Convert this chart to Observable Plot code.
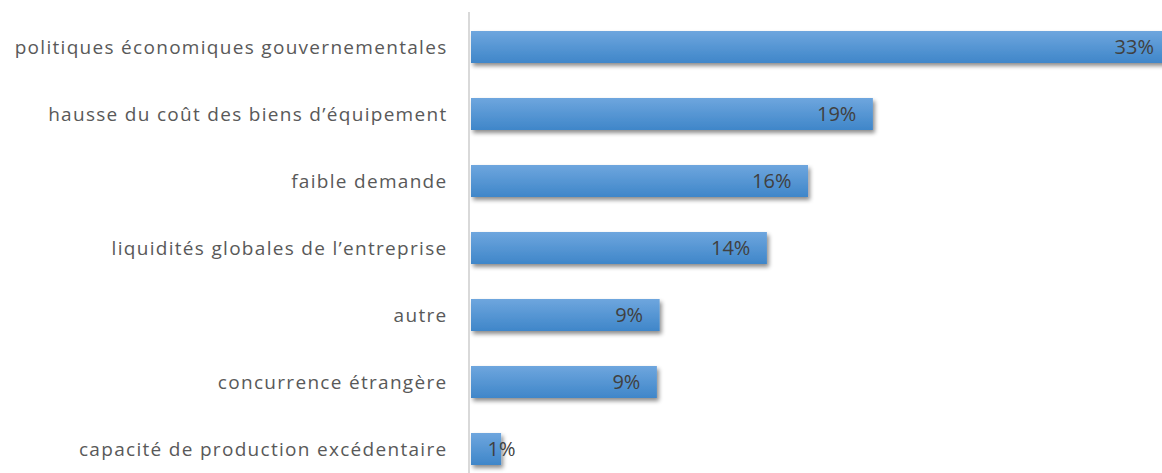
<!DOCTYPE html>
<html>
<head>
<meta charset="utf-8">
<script src="https://cdn.jsdelivr.net/npm/d3@7"></script>
<script src="https://cdn.jsdelivr.net/npm/@observablehq/plot@0.6"></script>
<style>
  html, body { margin: 0; padding: 0; background: #fff; overflow: hidden; }
</style>
</head>
<body>
<div id="chart"></div>
<script>
const categories = [
  "politiques économiques gouvernementales",
  "hausse du coût des biens d’équipement",
  "faible demande",
  "liquidités globales de l’entreprise",
  "autre",
  "concurrence étrangère",
  "capacité de production excédentaire"
];
const values = [33.0, 18.96, 15.9, 13.96, 8.9, 8.77, 1.42];
const valueLabels = ["33%", "19%", "16%", "14%", "9%", "9%", "1%"];

const data = categories.map((c, i) => ({category: c, value: values[i], label: valueLabels[i]}));

const chart = Plot.plot({
  width: 1162,
  height: 473,
  marginLeft: 471,
  marginRight: 0,
  marginTop: 12,
  marginBottom: 0,
  style: {fontFamily: "'Open Sans', sans-serif", overflow: "hidden", background: "#fff"},
  x: {domain: [0, 32.6], axis: null},
  y: {domain: categories, range: [12.4, 482.7], paddingInner: 0.524, paddingOuter: 0.262, axis: null},
  marks: [
    Plot.barX(data, {x: "value", y: "category", fill: "url(#barGrad)"}),
    Plot.ruleX([0], {stroke: "#d9d9d9", strokeWidth: 2, dx: -2.5}),
    Plot.axisY({tickSize: 0, tickPadding: 24, fontSize: 19, fill: "#595959", textStroke: "none", label: null}),
    Plot.text(data.filter(d => d.value >= 5), {x: "value", y: "category", text: "label", dx: -17, textAnchor: "end", fontSize: 20, fill: "#404040"}),
    Plot.text(data.filter(d => d.value < 5), {x: "value", y: "category", text: "label", textAnchor: "middle", fontSize: 20, fill: "#404040"})
  ]
});

const svg = d3.select(chart);
const defs = svg.insert("defs", ":first-child");
const grad = defs.append("linearGradient").attr("id", "barGrad").attr("x1", 0).attr("y1", 0).attr("x2", 0).attr("y2", 1);
grad.append("stop").attr("offset", "0%").attr("stop-color", "#6ea6de");
grad.append("stop").attr("offset", "100%").attr("stop-color", "#3f86c9");
const f = defs.append("filter").attr("id", "barShadow").attr("x", "-10%").attr("y", "-30%").attr("width", "130%").attr("height", "190%");
f.append("feDropShadow").attr("dx", 2).attr("dy", 3).attr("stdDeviation", 2).attr("flood-color", "#000").attr("flood-opacity", 0.45);
svg.selectAll("g[aria-label='bar'] rect").attr("filter", "url(#barShadow)");
svg.selectAll("g[aria-label='y-axis tick label'] text").attr("letter-spacing", "1.3px");

document.getElementById("chart").appendChild(chart);
</script>
</body>
</html>
